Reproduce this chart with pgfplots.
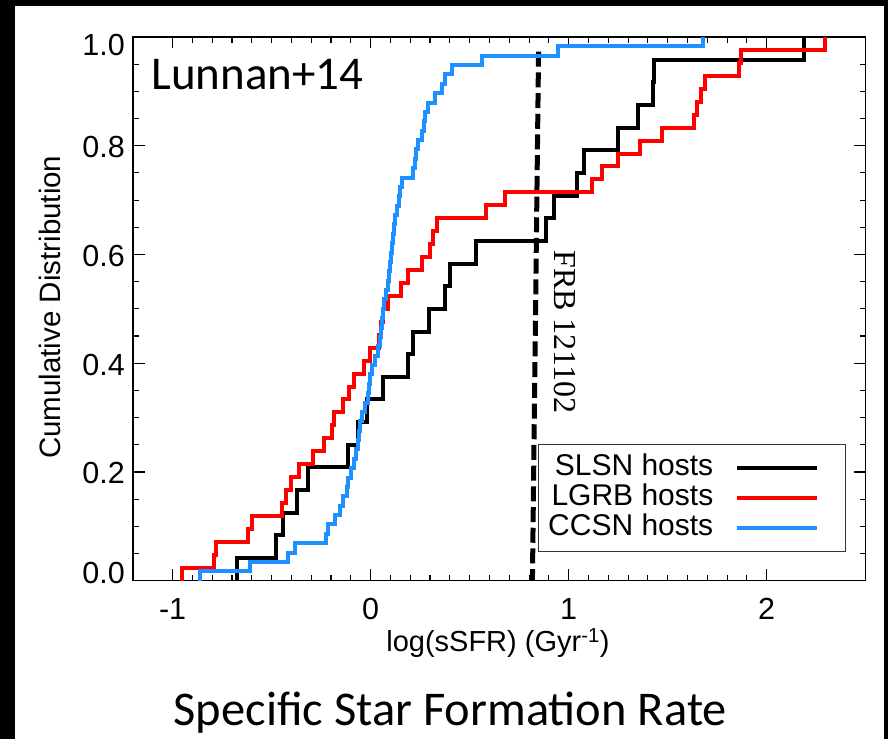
\documentclass[border=0pt]{standalone}
\usepackage{fontspec}
\setmainfont{Liberation Sans}
\newfontfamily\calibrifont{Carlito}
\newfontfamily\serifrm{Liberation Serif}
\usepackage{pgfplots}
\pgfplotsset{compat=1.18}

\definecolor{ccsnblue}{RGB}{30,144,255}
\definecolor{lgrbred}{RGB}{255,0,0}

\begin{document}
\begin{tikzpicture}[x=1pt,y=1pt]
% slide background
\fill[black] (0,0) rectangle (888,739);
\fill[white] (15,0) rectangle (884,733);

\begin{axis}[
  at={(133pt,158.3pt)}, anchor=south west,
  scale only axis, width=732.7pt, height=543.7pt,
  xmin=-1.2, xmax=2.5, ymin=0, ymax=1,
  xtick={-1,0,1,2}, xticklabels={-1,0,1,2},
  ytick={0,0.2,0.4,0.6,0.8,1},
  yticklabels={\raisebox{9.7pt}{0.0},0.2,0.4,0.6,0.8,\raisebox{-6.5pt}{1.0}},
  minor x tick num=9, minor y tick num=3,
  tick align=inside,
  major tick length=11.5pt, minor tick length=6pt,
  every tick/.style={black, line width=1.1pt},
  axis line style={line width=1.5pt},
  xticklabel style={font=\fontsize{30.5}{32}\selectfont, anchor=base, inner sep=0pt, yshift=-38.6pt},
  yticklabel style={font=\fontsize{30.5}{32}\selectfont, anchor=base east, inner sep=0pt, xshift=-8pt, yshift=-12pt},
  xlabel={log(sSFR) (Gyr\textsuperscript{-1})},
  xlabel style={at={(axis description cs:0.498,-0.1306)}, anchor=base, font=\fontsize{29}{30}\selectfont},
  ylabel={Cumulative Distribution},
  ylabel style={at={(axis description cs:-0.0996,0.503)}, anchor=base, font=\fontsize{29.5}{30}\selectfont},
  legend style={at={(axis description cs:0.9735,0.2514)}, anchor=north east,
    draw=black!80, line width=0.8pt, fill=white,
    inner xsep=10pt, inner ysep=8.5pt, column sep=21.6pt, row sep=0pt,
    font=\fontsize{30}{30}\selectfont,
    nodes={inner sep=0pt, text height=22.7pt, text depth=7.3pt}},
  legend plot pos=right, legend cell align=right,
  legend image code/.code={\draw[#1, line width=4pt] (0pt,0pt) -- (80pt,0pt);
    \path[draw=none, fill=none] (99pt,0pt) -- (99pt,0.1pt);},
]

% FRB 121102 host value
\addplot[forget plot, black, line width=5pt, dash pattern=on 15pt off 5.7pt]
  coordinates {(0.848,0.973) (0.817,0)};

% SLSN hosts (24 objects)
\addplot[const plot, draw=black, line width=4pt] coordinates {
(-0.675,0) (-0.675,0.04167) (-0.479,0.08333) (-0.442,0.125) (-0.374,0.16667)
(-0.317,0.20833) (-0.113,0.25) (-0.063,0.29167) (-0.020,0.33333) (0.064,0.375)
(0.190,0.41667) (0.215,0.45833) (0.297,0.5) (0.376,0.54167) (0.401,0.58333)
(0.530,0.625) (0.885,0.66667) (0.927,0.70833) (1.042,0.75) (1.075,0.79167)
(1.251,0.83333) (1.352,0.875) (1.424,0.91667) (1.433,0.95833) (2.188,1)};
\addlegendentry{SLSN hosts}

% LGRB hosts (42 objects)
\addplot[const plot, draw=lgrbred, line width=4pt] coordinates {
(-0.951,0) (-0.951,0.02381) (-0.793,0.04762) (-0.779,0.07143) (-0.619,0.09524)
(-0.599,0.11905) (-0.447,0.14286) (-0.425,0.16667) (-0.403,0.19048) (-0.363,0.21429)
(-0.290,0.23810) (-0.238,0.26190) (-0.196,0.28571) (-0.183,0.30952) (-0.139,0.33333)
(-0.111,0.35714) (-0.084,0.38095) (-0.034,0.40476) (-0.004,0.42857) (0.044,0.45238)
(0.050,0.47619) (0.064,0.5) (0.089,0.52381) (0.152,0.54762) (0.190,0.57143)
(0.258,0.59524) (0.300,0.61905) (0.317,0.64286) (0.337,0.66667) (0.581,0.69048)
(0.677,0.71429) (1.119,0.73810) (1.170,0.76190) (1.248,0.78571) (1.362,0.80952)
(1.471,0.83333) (1.632,0.85714) (1.648,0.88095) (1.670,0.90476) (1.687,0.92857)
(1.859,0.95238) (1.868,0.97619) (2.293,1)};
\addlegendentry{LGRB hosts}

% CCSN hosts (58 objects)
\addplot[const plot, draw=ccsnblue, line width=4pt] coordinates {
(-0.862,0) (-0.862,0.01724) (-0.608,0.03448) (-0.417,0.05172) (-0.380,0.06897)
(-0.226,0.08621) (-0.214,0.10345) (-0.181,0.12069) (-0.155,0.13793) (-0.139,0.15517)
(-0.121,0.17241) (-0.112,0.18966) (-0.098,0.20690) (-0.082,0.22414) (-0.074,0.24138)
(-0.066,0.25862) (-0.059,0.27586) (-0.052,0.29310) (-0.044,0.31034) (-0.029,0.32759)
(-0.015,0.34483) (-0.009,0.36207) (-0.005,0.37931) (0.005,0.39655) (0.021,0.41379)
(0.039,0.43103) (0.046,0.44828) (0.052,0.46552) (0.057,0.48276) (0.061,0.5)
(0.068,0.51724) (0.078,0.53448) (0.089,0.55172) (0.093,0.56897) (0.098,0.58621)
(0.102,0.60345) (0.106,0.62069) (0.112,0.63793) (0.117,0.65517) (0.123,0.67241)
(0.134,0.68966) (0.145,0.70690) (0.150,0.72414) (0.156,0.74138) (0.215,0.75862)
(0.222,0.77586) (0.229,0.79310) (0.241,0.81034) (0.257,0.82759) (0.267,0.84483)
(0.277,0.86207) (0.290,0.87931) (0.325,0.89655) (0.358,0.91379) (0.376,0.93103)
(0.411,0.94828) (0.561,0.96552) (0.944,0.98276) (1.677,1)};
\addlegendentry{CCSN hosts}

\node[anchor=base west, inner sep=0pt, font=\calibrifont\fontsize{47}{50}\selectfont]
  at (axis cs:-1.108,0.904) {Lunnan+14};
\node[anchor=base west, inner sep=0pt, rotate=-90, font=\serifrm\fontsize{32}{34}\selectfont]
  at (axis cs:0.927,0.608) {FRB 121102};
\end{axis}

\node[anchor=base, inner sep=0pt, font=\calibrifont\fontsize{48.5}{50}\selectfont]
  at (450.3,14) {Specific Star Formation Rate};
\end{tikzpicture}
\end{document}
